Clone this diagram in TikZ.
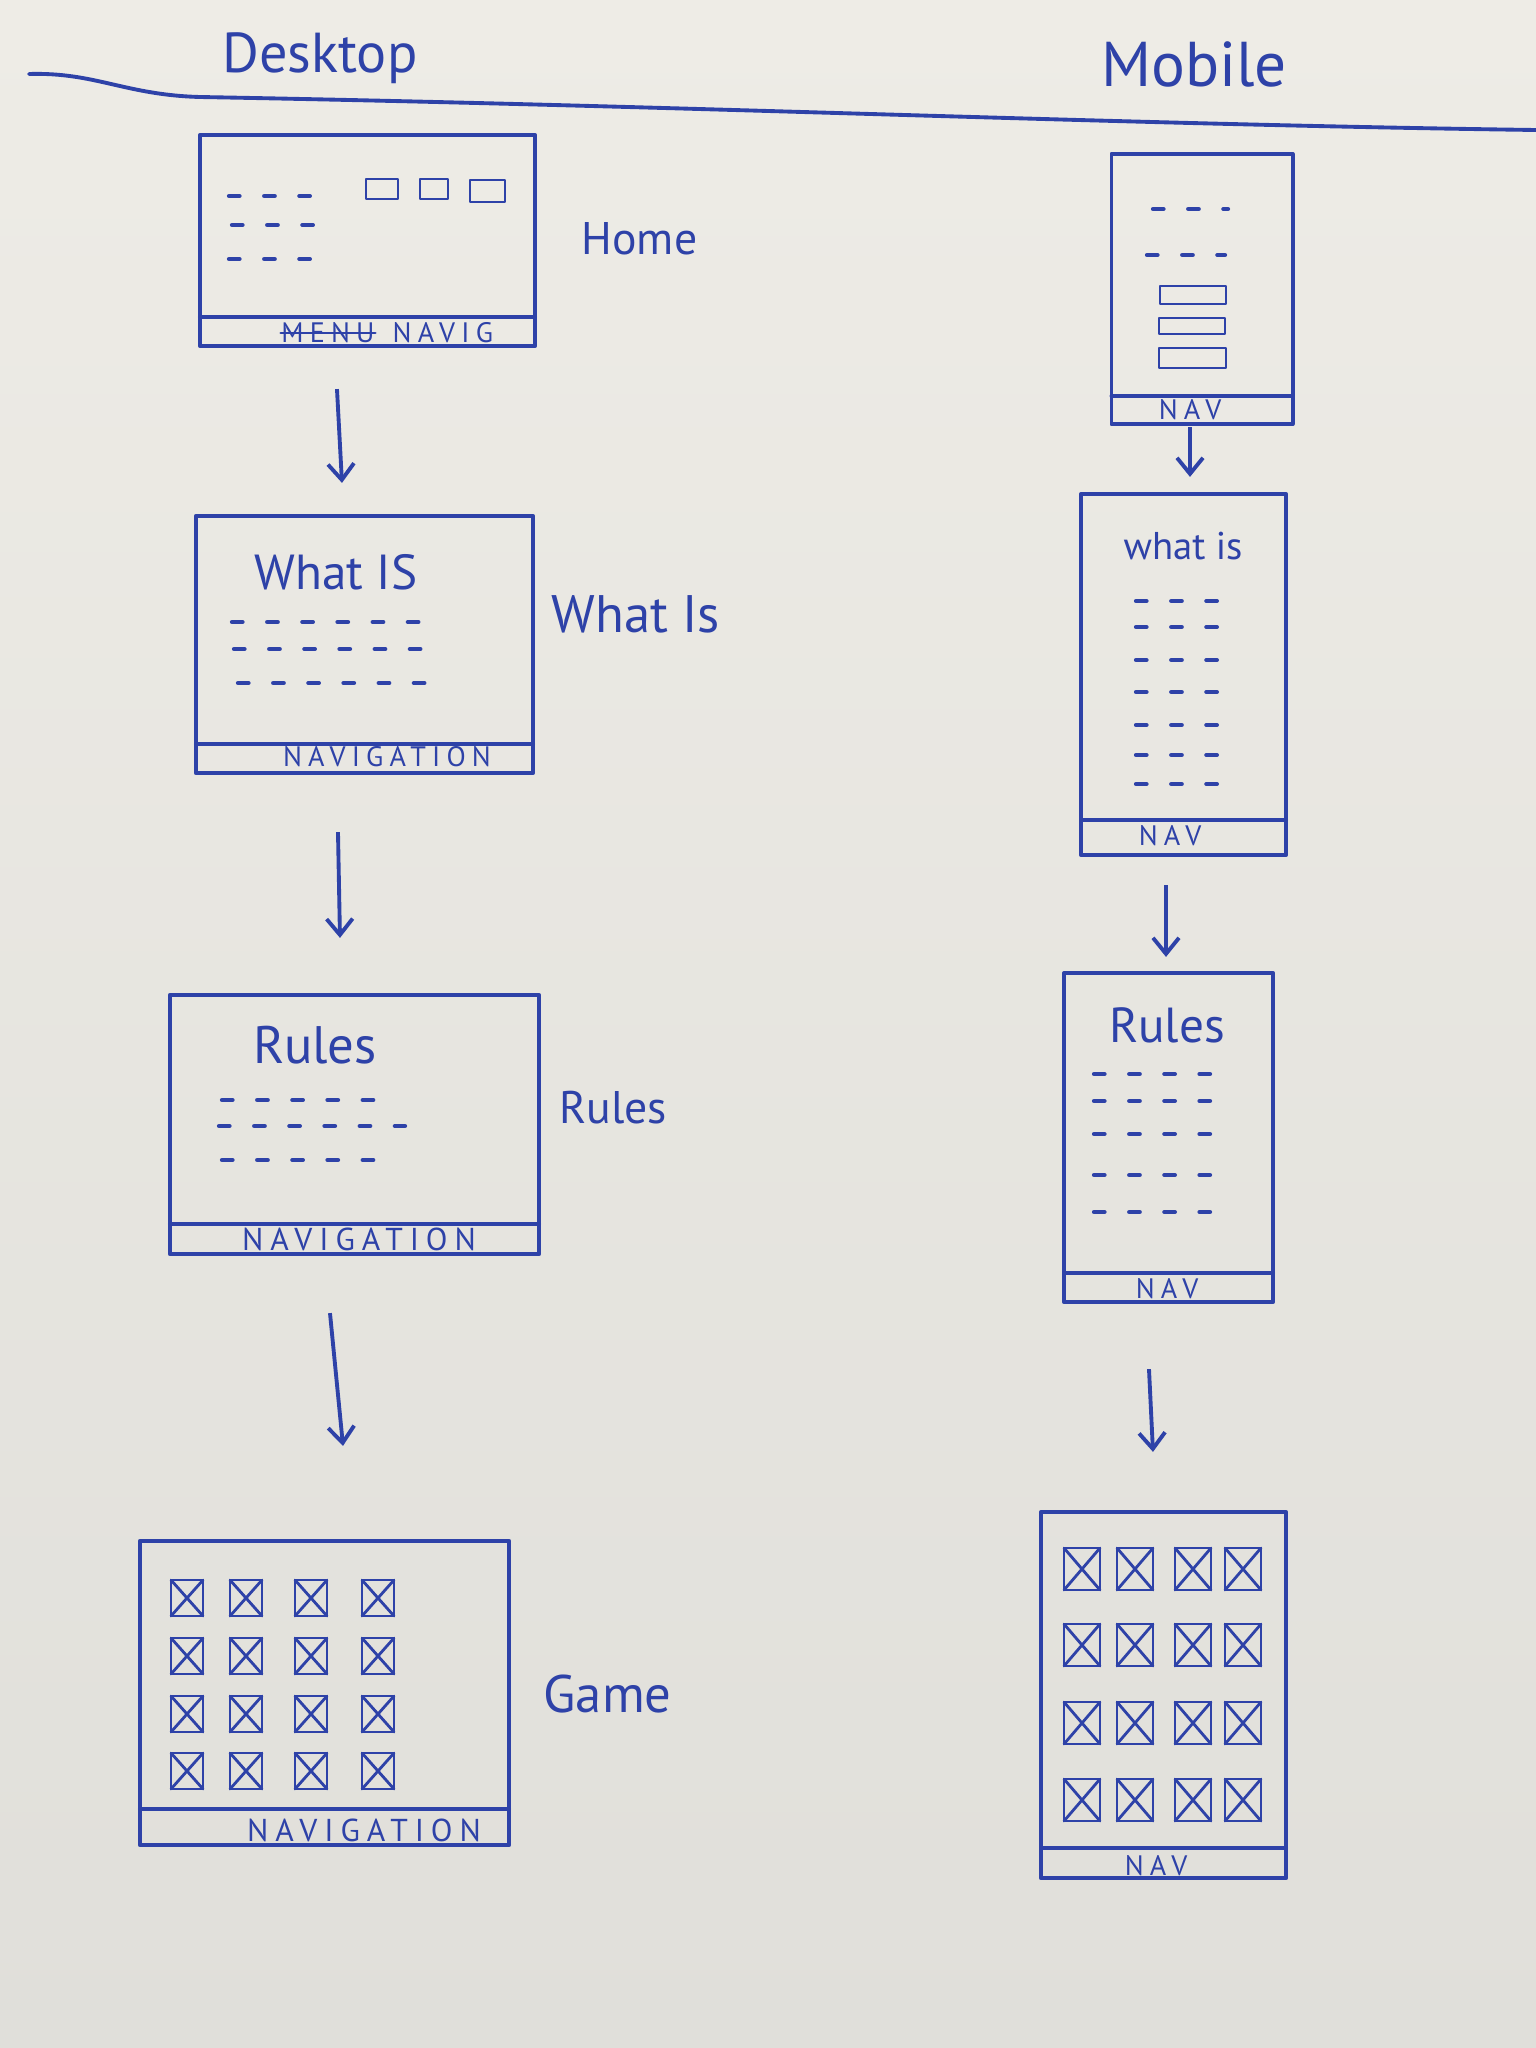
\documentclass[tikz,border=0pt]{standalone}
\usepackage{fontspec}
\setmainfont{PT Sans}
\newfontfamily\navfont[LetterSpace=22]{PT Sans}
\usetikzlibrary{calc,arrows.meta}
\definecolor{paperTop}{RGB}{238,236,230}
\definecolor{paperBot}{RGB}{224,223,218}
\definecolor{ink}{RGB}{46,66,168}
\begin{document}
\begin{tikzpicture}[x=0.01cm,y=-0.01cm,
  pen/.style={draw=ink,line width=1.1pt,line cap=round,line join=round},
  thinpen/.style={draw=ink,line width=0.8pt,line cap=round,line join=round},
  frame/.style={pen,rectangle,inner sep=0pt,outer sep=0pt},
  scribble/.style={draw=ink,line width=1.2pt,line cap=round,dash pattern=on 3pt off 7pt},
  flow/.style={draw=ink,line width=1.1pt,-{Straight Barb[length=1.6mm,width=2.6mm]}},
  lbl/.style={text=ink,inner sep=0pt},
  navtxt/.style={text=ink,inner sep=0pt,font=\navfont\fontsize{8}{9}\selectfont},
]
% paper
\shade[top color=paperTop,bottom color=paperBot] (0,0) rectangle (1536,2048);
\useasboundingbox (0,0) rectangle (1536,2048);

% column headings and separator
\node[lbl,font=\fontsize{16}{18}\selectfont] (hdesk) at (320,58) {Desktop};
\node[lbl,font=\fontsize{18}{20}\selectfont] (hmob) at (1194,64) {Mobile};
\draw[pen] (29,74) .. controls (95,72) and (125,95) .. (200,97)
  .. controls (700,106) and (1100,124) .. (1536,130);

% ---------------- desktop column ----------------
\node[frame,minimum width=3.35cm,minimum height=2.11cm] (dh) at (367.5,240.5) {};
\node[frame,minimum width=3.37cm,minimum height=2.57cm] (dw) at (364.5,644.5) {};
\node[frame,minimum width=3.69cm,minimum height=2.59cm] (dr) at (354.5,1124.5) {};
\node[frame,minimum width=3.69cm,minimum height=3.04cm] (dg) at (324.5,1693) {};

% navigation bars
\draw[pen] ($(dh.south west)+(0,-29)$) -- ($(dh.south east)+(0,-29)$);
\draw[pen] ($(dw.south west)+(0,-29)$) -- ($(dw.south east)+(0,-29)$);
\draw[pen] ($(dr.south west)+(0,-30)$) -- ($(dr.south east)+(0,-30)$);
\draw[pen] ($(dg.south west)+(0,-36)$) -- ($(dg.south east)+(0,-36)$);

% home: placeholder text, three buttons, nav
\draw[scribble] (229,196) -- (310,196);
\draw[scribble] (232,225) -- (313,225);
\draw[scribble] (229,259) -- (320,259);
\draw[thinpen] (366,179) rectangle (398,199);
\draw[thinpen] (420,179) rectangle (448,199);
\draw[thinpen] (470,180) rectangle (505,202);
\node[navtxt] (dhmenu) at (328,333) {MENU};
\draw[thinpen] (dhmenu.west) -- (dhmenu.east);
\node[navtxt,anchor=west] (dhnav) at (392,333) {NAVIG};

% what is
\node[lbl,font=\fontsize{14}{16}\selectfont] (dwt) at (336,572) {What IS};
\draw[scribble] (232,622) -- (432,622);
\draw[scribble] (234,649) -- (437,649);
\draw[scribble] (238,683) -- (440,683);
\node[navtxt] (dwnav) at (387,757) {NAVIGATION};

% rules
\node[lbl,font=\fontsize{15}{17}\selectfont] (drt) at (315,1045) {Rules};
\draw[scribble] (222,1100) -- (375,1100);
\draw[scribble] (219,1126) -- (405,1126);
\draw[scribble] (222,1160) -- (395,1160);
\node[navtxt,font=\navfont\fontsize{9}{10}\selectfont] (drnav) at (359,1239) {NAVIGATION};

% game grid
\foreach \cx in {187,246,311,378}
  \foreach \cy in {1598,1656,1714,1771} {
    \draw[thinpen] (\cx-16,\cy-18) rectangle (\cx+16,\cy+18);
    \draw[thinpen] (\cx-16,\cy-18) -- (\cx+16,\cy+18) (\cx-16,\cy+18) -- (\cx+16,\cy-18);
  }
\node[navtxt,font=\navfont\fontsize{9}{10}\selectfont] (dgnav) at (364,1830) {NAVIGATION};

% page labels
\node[lbl,anchor=west,font=\fontsize{13}{15}\selectfont] (lhome) at (581,239) {Home};
\node[lbl,anchor=west,font=\fontsize{15}{17}\selectfont] (lwhat) at (551,614) {What Is};
\node[lbl,anchor=west,font=\fontsize{13}{15}\selectfont] (lrules) at (559,1108) {Rules};
\node[lbl,anchor=west,font=\fontsize{15}{17}\selectfont] (lgame) at (543,1694) {Game};

% flow
\draw[flow] ([xshift=-0.305cm,yshift=-0.43cm]dh.south) -- ([xshift=-0.225cm,yshift=0.33cm]dw.north);
\draw[flow] ([xshift=-0.265cm,yshift=-0.59cm]dw.south) -- ([xshift=-0.145cm,yshift=0.57cm]dr.north);
\draw[flow] ([xshift=-0.245cm,yshift=-0.59cm]dr.south) -- ([xshift=0.185cm,yshift=0.95cm]dg.north);

% ---------------- mobile column ----------------
\node[frame,minimum width=1.81cm,minimum height=2.70cm] (mh) at (1202,289) {};
\node[frame,minimum width=2.05cm,minimum height=3.61cm] (mw) at (1183.5,674.5) {};
\node[frame,minimum width=2.09cm,minimum height=3.29cm] (mr) at (1168.5,1137.5) {};
\node[frame,minimum width=2.45cm,minimum height=3.66cm] (mg) at (1163.5,1695) {};

\draw[pen] ($(mh.south west)+(0,-28)$) -- ($(mh.south east)+(0,-28)$);
\draw[pen] ($(mw.south west)+(0,-35)$) -- ($(mw.south east)+(0,-35)$);
\draw[pen] ($(mr.south west)+(0,-29)$) -- ($(mr.south east)+(0,-29)$);
\draw[pen] ($(mg.south west)+(0,-30)$) -- ($(mg.south east)+(0,-30)$);

% home
\draw[scribble] (1153,209) -- (1228,209);
\draw[scribble] (1147,255) -- (1225,255);
\draw[thinpen] (1160,286) rectangle (1226,304);
\draw[thinpen] (1159,318) rectangle (1225,334);
\draw[thinpen] (1159,348) rectangle (1226,368);
\node[navtxt] (mhnav) at (1190,410) {NAV};

% what is
\node[lbl,font=\fontsize{11}{13}\selectfont] (mwt) at (1183,546) {what is};
\foreach \ry in {601,627,660,692,725,755,784}
  \draw[scribble] (1136,\ry) -- (1230,\ry);
\node[navtxt] (mwnav) at (1170,836) {NAV};

% rules
\node[lbl,font=\fontsize{14}{16}\selectfont] (mrt) at (1167,1025) {Rules};
\foreach \ry in {1074,1101,1134,1175,1212}
  \draw[scribble] (1094,\ry) -- (1230,\ry);
\node[navtxt] (mrnav) at (1167,1289) {NAV};

% game grid
\foreach \cx in {1082,1135,1193,1243}
  \foreach \cy in {1569,1645,1723,1800} {
    \draw[thinpen] (\cx-18,\cy-21) rectangle (\cx+18,\cy+21);
    \draw[thinpen] (\cx-18,\cy-21) -- (\cx+18,\cy+21) (\cx-18,\cy+21) -- (\cx+18,\cy-21);
  }
\node[navtxt] (mgnav) at (1156,1866) {NAV};

% flow
\draw[flow] ([xshift=-0.12cm,yshift=-0.03cm]mh.south) -- ([xshift=0.065cm,yshift=0.17cm]mw.north);
\draw[flow] ([xshift=-0.175cm,yshift=-0.30cm]mw.south) -- ([xshift=-0.025cm,yshift=0.16cm]mr.north);
\draw[flow] ([xshift=-0.195cm,yshift=-0.67cm]mr.south) -- ([xshift=-0.105cm,yshift=0.60cm]mg.north);
\end{tikzpicture}
\end{document}
